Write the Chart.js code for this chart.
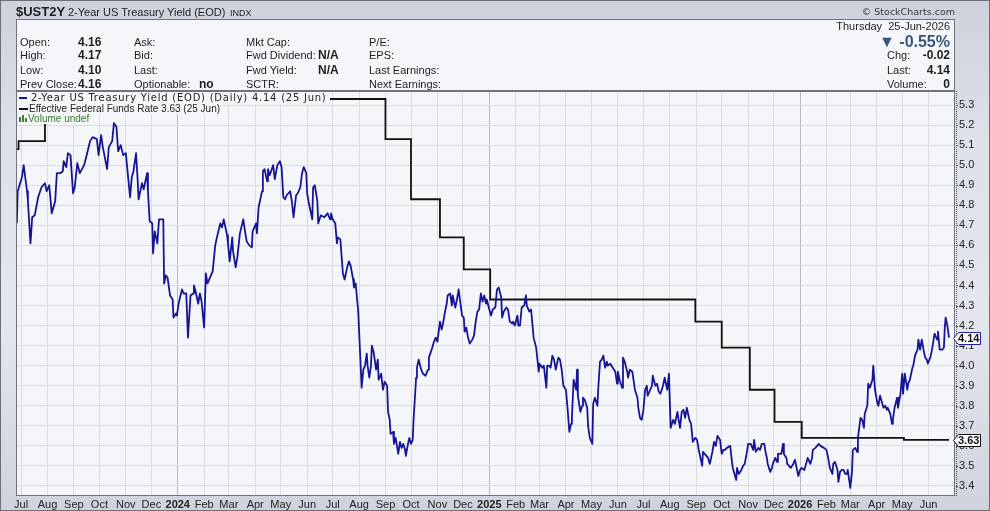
<!DOCTYPE html>
<html>
<head>
<meta charset="utf-8">
<title>$UST2Y</title>
<script src="https://cdn.jsdelivr.net/npm/chart.js@4.4.1/dist/chart.umd.min.js"></script>
<style>
  html, body { margin: 0; padding: 0; }
  body { width: 990px; height: 511px; overflow: hidden; position: relative;
         font-family: "Liberation Sans", Arial, sans-serif; color: #1e1e1e; }
  #page { position: absolute; left: 0; top: 0; width: 988px; height: 509px;
          border: 1px solid #6c6f78;
          background: linear-gradient(to bottom, #cdd2dc 0px, #dde1e8 140px, #e4e7ed 320px, #cfd3dc 509px); }
  #info { position: absolute; left: 16px; top: 19px; width: 937px; height: 70px;
          border: 1px solid #70737d; background: #f4f6fa; }
  canvas { position: absolute; left: 0; top: 0; z-index: 1; }
  .t { position: absolute; white-space: nowrap; height: 14px; line-height: 14px; font-size: 11px; z-index: 2; }
  .b { font-weight: bold; font-size: 12px; }
  .r { text-align: right; }
  .leg { position: absolute; left: 17px; background: #f4f6fa; z-index: 2; white-space: nowrap; }
</style>
</head>
<body>
<div id="page"></div>
<div id="info"></div>

<!-- header -->
<div class="t" style="left:16px;top:5px;font-size:13px;font-weight:bold;">$UST2Y</div>
<div class="t" style="left:68px;top:5px;font-size:11px;">2-Year US Treasury Yield (EOD)</div>
<div class="t" style="left:230px;top:6px;font-size:9px;">INDX</div>
<div class="t r" style="left:805px;width:150px;top:5px;font-family:'DejaVu Sans';font-size:9.5px;color:#3a3a3a;">&copy; StockCharts.com</div>

<!-- info panel -->
<div class="t" style="left:20px;top:35px;">Open:</div>
<div class="t" style="left:20px;top:48px;">High:</div>
<div class="t" style="left:20px;top:63px;">Low:</div>
<div class="t" style="left:20px;top:77px;">Prev Close:</div>
<div class="t b" style="left:78px;top:35px;">4.16</div>
<div class="t b" style="left:78px;top:48px;">4.17</div>
<div class="t b" style="left:78px;top:63px;">4.10</div>
<div class="t b" style="left:78px;top:77px;">4.16</div>
<div class="t" style="left:134px;top:35px;">Ask:</div>
<div class="t" style="left:134px;top:48px;">Bid:</div>
<div class="t" style="left:134px;top:63px;">Last:</div>
<div class="t" style="left:134px;top:77px;">Optionable:</div>
<div class="t b" style="left:199px;top:77px;">no</div>
<div class="t" style="left:246px;top:35px;">Mkt Cap:</div>
<div class="t" style="left:246px;top:48px;">Fwd Dividend:</div>
<div class="t" style="left:246px;top:63px;">Fwd Yield:</div>
<div class="t" style="left:246px;top:77px;">SCTR:</div>
<div class="t b" style="left:318px;top:48px;">N/A</div>
<div class="t b" style="left:318px;top:63px;">N/A</div>
<div class="t" style="left:369px;top:35px;">P/E:</div>
<div class="t" style="left:369px;top:48px;">EPS:</div>
<div class="t" style="left:369px;top:63px;">Last Earnings:</div>
<div class="t" style="left:369px;top:77px;">Next Earnings:</div>

<div class="t r" style="left:800px;width:150px;top:19px;">Thursday&nbsp; 25-Jun-2026</div>
<div class="t r" style="left:800px;width:150px;top:33px;height:17px;line-height:17px;font-size:16px;font-weight:bold;color:#3b5479;">&#9660; -0.55%</div>
<div class="t" style="left:887px;top:48px;">Chg:</div>
<div class="t" style="left:887px;top:63px;">Last:</div>
<div class="t" style="left:887px;top:77px;">Volume:</div>
<div class="t b r" style="left:900px;width:50px;top:48px;">-0.02</div>
<div class="t b r" style="left:900px;width:50px;top:63px;">4.14</div>
<div class="t b r" style="left:900px;width:50px;top:77px;">0</div>

<!-- legend inside the plot -->
<div class="leg" style="top:92px;width:313px;height:12px;"></div>
<div class="leg" style="top:104px;width:201px;height:10px;"></div>
<div class="leg" style="top:114px;width:76px;height:10px;"></div>
<div style="position:absolute;left:19px;top:97px;width:8px;height:2px;background:#151595;z-index:3;"></div>
<div class="t" style="left:31px;top:91px;font-family:'DejaVu Sans';font-size:10px;letter-spacing:0.75px;color:#222;z-index:3;">2-Year US Treasury Yield (EOD) (Daily) 4.14 (25 Jun)</div>
<div style="position:absolute;left:19px;top:108px;width:9px;height:2px;background:#111;z-index:3;"></div>
<div class="t" style="left:29px;top:102px;font-size:10px;color:#222;z-index:3;">Effective Federal Funds Rate 3.63 (25 Jun)</div>
<div style="position:absolute;left:19px;top:117px;width:2px;height:5px;background:#3f7f35;z-index:3;"></div>
<div style="position:absolute;left:22px;top:115px;width:2px;height:7px;background:#3f7f35;z-index:3;"></div>
<div style="position:absolute;left:25px;top:118px;width:2px;height:4px;background:#3f7f35;z-index:3;"></div>
<div class="t" style="left:28px;top:112px;font-size:10px;color:#3a7a2e;z-index:3;">Volume undef</div>

<canvas id="chart" width="990" height="511"></canvas>

<script>
// day offsets are calendar days counted from 26-Jun-2023
const startDate = Date.UTC(2023, 5, 26);

// tick labels, one per month from Jul 2023 to Jun 2026
const monthLabels = ['Jul', 'Aug', 'Sep', 'Oct', 'Nov', 'Dec',
    '2024', 'Feb', 'Mar', 'Apr', 'May', 'Jun', 'Jul', 'Aug', 'Sep', 'Oct', 'Nov', 'Dec',
    '2025', 'Feb', 'Mar', 'Apr', 'May', 'Jun', 'Jul', 'Aug', 'Sep', 'Oct', 'Nov', 'Dec',
    '2026', 'Feb', 'Mar', 'Apr', 'May', 'Jun'];

const yieldTicks = [3.4, 3.5, 3.6, 3.7, 3.8, 3.9, 4.0, 4.1, 4.2, 4.3, 4.4, 4.5, 4.6, 4.7, 4.8, 4.9, 5.0, 5.1, 5.2, 5.3];

// 2-Year US Treasury Yield (EOD)
const ustDay = [
    0, 1, 6, 8, 12, 13, 16, 18, 21, 25,
    29, 33, 35, 38, 41, 45, 47, 51, 54, 55,
    58, 60, 63, 66, 68, 71, 74, 79, 82, 86,
    89, 94, 96, 99, 101, 106, 108, 112, 114, 117,
    119, 122, 125, 128, 130, 133, 135, 137, 140, 142,
    143, 147, 149, 153, 154, 156, 159, 160, 162, 165,
    167, 172, 173, 175, 177, 180, 183, 184, 187, 188,
    190, 194, 196, 199, 201, 204, 207, 208, 210, 213,
    215, 217, 220, 222, 224, 228, 230, 233, 235, 239,
    241, 243, 247, 248, 250, 253, 254, 257, 259, 262,
    266, 268, 270, 273, 276, 277, 281, 282, 284, 288,
    289, 291, 294, 295, 297, 301, 303, 306, 309, 311,
    313, 315, 317, 321, 323, 325, 328, 330, 333, 335,
    337, 340, 341, 343, 347, 348, 350, 353, 354, 357,
    361, 363, 365, 368, 369, 371, 374, 376, 377, 380,
    383, 385, 388, 390, 392, 395, 396, 398, 401, 403,
    405, 407, 409, 411, 412, 414, 416, 417, 419, 422,
    424, 425, 428, 430, 432, 435, 436, 438, 439, 442,
    443, 445, 448, 450, 452, 454, 456, 457, 459, 461,
    463, 465, 466, 469, 470, 472, 475, 477, 480, 483,
    484, 488, 490, 492, 494, 497, 499, 501, 503, 505,
    506, 509, 511, 512, 515, 517, 519, 522, 523, 525,
    526, 528, 530, 532, 535, 537, 539, 541, 543, 545,
    547, 549, 551, 552, 555, 557, 559, 562, 564, 566,
    569, 570, 572, 575, 577, 579, 582, 583, 585, 588,
    589, 591, 593, 596, 598, 599, 602, 604, 606, 607,
    610, 611, 613, 614, 617, 619, 622, 623, 625, 627,
    629, 631, 633, 636, 638, 640, 642, 645, 647, 649,
    651, 652, 654, 657, 658, 659, 662, 664, 665, 667,
    670, 671, 673, 676, 677, 679, 682, 683, 685, 687,
    689, 691, 693, 694, 697, 700, 703, 705, 706, 708,
    711, 712, 714, 717, 718, 720, 723, 724, 726, 729,
    730, 732, 734, 736, 738, 740, 741, 744, 746, 747,
    750, 752, 754, 756, 759, 761, 764, 766, 768, 771,
    773, 776, 777, 779, 781, 783, 785, 787, 790, 792,
    794, 797, 799, 801, 805, 806, 810, 812, 814, 817,
    819, 821, 823, 826, 828, 830, 832, 834, 838, 840,
    841, 845, 846, 848, 851, 853, 855, 858, 859, 862,
    865, 866, 868, 871, 873, 875, 878, 879, 881, 882,
    885, 887, 888, 891, 893, 894, 898, 900, 901, 904,
    905, 907, 909, 912, 914, 917, 918, 920, 922, 925,
    927, 929, 932, 934, 935, 938, 940, 942, 944, 948,
    951, 953, 955, 958, 959, 961, 964, 965, 967, 969,
    971, 973, 975, 976, 979, 981, 982, 985, 987, 988,
    991, 993, 995, 996, 999, 1000, 1002, 1005, 1006, 1008,
    1011, 1012, 1014, 1016, 1018, 1020, 1022, 1023, 1026, 1028,
    1029, 1031, 1034, 1035, 1038, 1040, 1041, 1043, 1046, 1047,
    1049, 1052, 1053, 1055, 1058, 1059, 1061, 1063, 1065, 1067,
    1069, 1070, 1073, 1075, 1076, 1078, 1081, 1082, 1084, 1087,
    1089, 1090, 1091, 1093, 1094, 1095
];
const ustYield = [
    4.71, 4.87, 4.94, 5.00, 4.87, 4.82, 4.61, 4.74, 4.75, 4.84,
    4.89, 4.91, 4.87, 4.90, 4.76, 4.82, 4.96, 4.96, 4.97, 5.02,
    4.99, 5.06, 5.05, 4.86, 4.89, 5.01, 4.96, 5.00, 5.05, 5.12,
    5.14, 5.13, 5.05, 5.15, 5.09, 4.98, 5.09, 5.12, 5.21, 5.19,
    5.07, 5.10, 5.05, 5.06, 4.97, 4.84, 4.94, 4.97, 5.06, 4.92,
    4.83, 4.91, 4.88, 4.96, 4.87, 4.72, 4.71, 4.56, 4.67, 4.61,
    4.73, 4.73, 4.41, 4.45, 4.44, 4.35, 4.33, 4.24, 4.26, 4.25,
    4.31, 4.38, 4.36, 4.36, 4.14, 4.35, 4.36, 4.40, 4.37, 4.31,
    4.36, 4.32, 4.19, 4.46, 4.41, 4.45, 4.47, 4.60, 4.64, 4.71,
    4.69, 4.73, 4.65, 4.61, 4.52, 4.64, 4.57, 4.49, 4.54, 4.66,
    4.73, 4.67, 4.62, 4.60, 4.59, 4.67, 4.71, 4.66, 4.79, 4.87,
    4.97, 4.98, 4.92, 4.98, 4.95, 5.00, 4.93, 5.00, 5.02, 4.99,
    4.84, 4.83, 4.85, 4.87, 4.82, 4.74, 4.85, 4.86, 4.89, 4.96,
    4.99, 4.96, 4.86, 4.81, 4.73, 4.89, 4.90, 4.82, 4.71, 4.75,
    4.74, 4.75, 4.76, 4.73, 4.76, 4.73, 4.71, 4.61, 4.64, 4.63,
    4.46, 4.43, 4.49, 4.52, 4.50, 4.43, 4.39, 4.41, 4.27, 4.08,
    3.89, 3.98, 4.00, 4.06, 4.00, 3.94, 4.00, 4.10, 4.07, 3.98,
    4.03, 3.93, 3.96, 3.88, 3.92, 3.90, 3.77, 3.73, 3.66, 3.67,
    3.61, 3.64, 3.56, 3.62, 3.59, 3.61, 3.58, 3.55, 3.60, 3.64,
    3.61, 3.63, 3.73, 3.94, 3.99, 4.03, 3.98, 3.96, 3.95, 3.98,
    4.04, 4.09, 4.12, 4.14, 4.12, 4.22, 4.18, 4.22, 4.27, 4.31,
    4.35, 4.36, 4.30, 4.35, 4.29, 4.33, 4.38, 4.28, 4.25, 4.24,
    4.17, 4.19, 4.14, 4.11, 4.13, 4.15, 4.22, 4.27, 4.28, 4.36,
    4.32, 4.35, 4.31, 4.33, 4.28, 4.25, 4.28, 4.29, 4.38, 4.39,
    4.34, 4.24, 4.27, 4.29, 4.28, 4.22, 4.21, 4.22, 4.20, 4.25,
    4.20, 4.20, 4.29, 4.30, 4.35, 4.30, 4.27, 4.28, 4.19, 4.14,
    4.09, 4.05, 3.97, 4.01, 3.99, 4.00, 3.89, 4.00, 4.00, 3.99,
    4.05, 4.03, 3.98, 4.04, 4.03, 3.98, 3.90, 3.88, 3.78, 3.67,
    3.71, 3.74, 3.93, 3.88, 3.98, 3.85, 3.77, 3.80, 3.84, 3.83,
    3.79, 3.70, 3.64, 3.61, 3.81, 3.84, 3.80, 3.89, 4.02, 4.03,
    4.05, 3.99, 4.02, 4.00, 4.01, 3.99, 3.97, 3.91, 3.97, 3.93,
    3.89, 4.04, 4.02, 3.97, 3.94, 3.98, 3.97, 3.94, 3.88, 3.84,
    3.79, 3.74, 3.73, 3.78, 3.88, 3.90, 3.85, 3.88, 3.90, 3.95,
    3.90, 3.91, 3.87, 3.86, 3.90, 3.94, 3.88, 3.96, 3.69, 3.73,
    3.71, 3.77, 3.74, 3.69, 3.77, 3.78, 3.74, 3.79, 3.73, 3.71,
    3.62, 3.64, 3.63, 3.58, 3.50, 3.57, 3.55, 3.54, 3.51, 3.57,
    3.62, 3.60, 3.65, 3.63, 3.56, 3.58, 3.58, 3.59, 3.60, 3.52,
    3.49, 3.43, 3.49, 3.46, 3.48, 3.50, 3.51, 3.58, 3.61, 3.61,
    3.58, 3.63, 3.57, 3.59, 3.58, 3.61, 3.61, 3.58, 3.54, 3.51,
    3.47, 3.49, 3.51, 3.54, 3.52, 3.56, 3.56, 3.61, 3.56, 3.54,
    3.51, 3.50, 3.49, 3.51, 3.53, 3.47, 3.45, 3.48, 3.49, 3.48,
    3.51, 3.54, 3.51, 3.54, 3.58, 3.59, 3.60, 3.61, 3.60, 3.59,
    3.58, 3.54, 3.49, 3.46, 3.51, 3.52, 3.48, 3.42, 3.47, 3.48,
    3.48, 3.46, 3.46, 3.48, 3.39, 3.47, 3.58, 3.59, 3.57, 3.64,
    3.74, 3.73, 3.69, 3.76, 3.80, 3.91, 3.89, 3.93, 4.00, 3.88,
    3.81, 3.80, 3.85, 3.82, 3.79, 3.80, 3.78, 3.79, 3.76, 3.71,
    3.73, 3.79, 3.84, 3.79, 3.86, 3.96, 3.86, 3.96, 3.88, 3.91,
    3.93, 3.99, 4.00, 4.05, 4.08, 4.13, 4.08, 4.13, 4.08, 4.04,
    4.03, 4.01, 4.04, 4.08, 4.08, 4.16, 4.13, 4.17, 4.08, 4.08,
    4.09, 4.19, 4.24, 4.20, 4.17, 4.14
];

// Effective Federal Funds Rate: day of each change and the new rate
const fedDay = [0, 2, 33, 433, 463, 497, 525, 556, 797, 828, 861, 890, 922, 1042, 1095];
const fedRate = [5.08, 5.12, 5.33, 5.13, 4.83, 4.64, 4.48, 4.33, 4.22, 4.09, 3.88, 3.72, 3.64, 3.63, 3.63];

const monthTicks = monthLabels.map((_, i) => (Date.UTC(2023, 6 + i, 1) - startDate) / 86400000);
const isYear = i => /^\d{4}$/.test(monthLabels[i] || '');

// plot background, frame, dotted right axis and the last-value tags
const plotFrame = {
    id: 'plotFrame',
    beforeDraw(chart) {
        const { ctx, chartArea: a } = chart;
        ctx.save();
        ctx.fillStyle = '#f4f6fa';
        ctx.fillRect(a.left, a.top, a.right - a.left, a.bottom - a.top);
        ctx.restore();
    },
    afterDraw(chart) {
        const { ctx, chartArea: a, scales } = chart;
        ctx.save();
        ctx.strokeStyle = '#6f727c';
        ctx.lineWidth = 1;
        ctx.strokeRect(a.left + 0.5, a.top + 0.5, a.right - a.left - 1, a.bottom - a.top - 1);

        // dotted axis line with small ticks
        ctx.strokeStyle = '#555';
        ctx.setLineDash([1, 1]);
        ctx.beginPath();
        ctx.moveTo(a.right + 1.5, a.top);
        ctx.lineTo(a.right + 1.5, a.bottom);
        ctx.stroke();
        ctx.setLineDash([]);
        yieldTicks.forEach(v => {
            const y = Math.round(scales.y.getPixelForValue(v)) + 0.5;
            ctx.beginPath();
            ctx.moveTo(a.right + 1, y);
            ctx.lineTo(a.right + 3, y);
            ctx.stroke();
        });

        const tags = [
            { value: ustYield[ustYield.length - 1], stroke: '#1c22a0' },
            { value: fedRate[fedRate.length - 1], stroke: '#111111' }
        ];
        tags.forEach(tag => {
            const y = Math.round(scales.y.getPixelForValue(tag.value)) + 0.5;
            const x0 = a.right - 1.5, x1 = a.right + 3.5, x2 = a.right + 25.5;
            ctx.beginPath();
            ctx.moveTo(x0, y);
            ctx.lineTo(x1, y - 6);
            ctx.lineTo(x2, y - 6);
            ctx.lineTo(x2, y + 6);
            ctx.lineTo(x1, y + 6);
            ctx.closePath();
            ctx.fillStyle = '#ffffff';
            ctx.fill();
            ctx.strokeStyle = tag.stroke;
            ctx.lineWidth = 1;
            ctx.stroke();
            ctx.fillStyle = '#111';
            ctx.font = 'bold 11px "Liberation Sans", Arial, sans-serif';
            ctx.textBaseline = 'middle';
            ctx.textAlign = 'left';
            ctx.fillText(tag.value.toFixed(2), a.right + 3, y + 0.5);
        });
        ctx.restore();
    }
};

document.addEventListener('DOMContentLoaded', function () {
    const ctx = document.getElementById('chart').getContext('2d');

    new Chart(ctx, {
        type: 'line',
        data: {
            datasets: [{
                label: '2-Year US Treasury Yield (EOD)',
                data: ustDay.map((d, i) => ({ x: d, y: ustYield[i] })),
                borderColor: '#151595',
                borderWidth: 1.8,
                pointRadius: 0,
                tension: 0,
                borderJoinStyle: 'round'
            }, {
                label: 'Effective Federal Funds Rate',
                data: fedDay.map((d, i) => ({ x: d, y: fedRate[i] })),
                borderColor: '#111111',
                borderWidth: 1.8,
                pointRadius: 0,
                stepped: 'before'
            }]
        },
        options: {
            responsive: false,
            animation: false,
            devicePixelRatio: 1,
            layout: { padding: { left: 16, top: 91, right: 0, bottom: 0 } },
            plugins: {
                legend: { display: false },
                tooltip: { enabled: false }
            },
            scales: {
                x: {
                    type: 'linear',
                    min: -1,
                    max: 1102,
                    afterBuildTicks: scale => { scale.ticks = monthTicks.map(v => ({ value: v })); },
                    afterFit: scale => { scale.height = 15; },
                    ticks: {
                        autoSkip: false,
                        maxRotation: 0,
                        padding: 2,
                        color: '#222',
                        font: c => ({ family: '"Liberation Sans", Arial, sans-serif', size: 11,
                                      weight: isYear(c.index) ? 'bold' : 'normal' }),
                        callback: (value, index) => monthLabels[index]
                    },
                    grid: {
                        drawTicks: false,
                        color: c => isYear(c.index) ? '#b5b8c1' : '#d9dce3'
                    },
                    border: { display: false }
                },
                y: {
                    position: 'right',
                    min: 3.35,
                    max: 5.37,
                    afterBuildTicks: scale => { scale.ticks = yieldTicks.map(v => ({ value: v })); },
                    afterFit: scale => { scale.width = 35; },
                    ticks: {
                        padding: 4,
                        color: '#222',
                        font: { family: '"Liberation Sans", Arial, sans-serif', size: 11 },
                        callback: value => value.toFixed(1)
                    },
                    grid: { drawTicks: false, color: '#d9dce3' },
                    border: { display: false }
                }
            }
        },
        plugins: [plotFrame]
    });
});
</script>
</body>
</html>
